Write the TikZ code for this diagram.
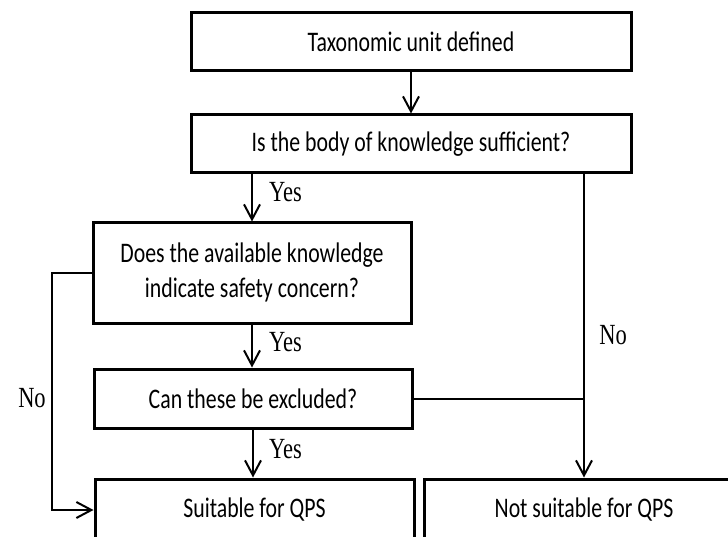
\documentclass[tikz,border=0pt]{standalone}
\usepackage{fontspec}
\setmainfont{Carlito}
\newfontfamily\serifl{Liberation Serif}
\usetikzlibrary{arrows.meta}
\newcommand\vstretch[1]{\scalebox{1}[1.3]{#1}}
\begin{document}
\begin{tikzpicture}[x=1pt,y=-1pt,
  box/.style={draw, line width=3pt, rectangle, inner sep=0pt, anchor=center,
    font=\fontsize{21.8}{27}\selectfont, text=black},
  conn/.style={line width=2pt},
  arr/.style={conn, -{Straight Barb[length=15pt,width=16pt,line width=2pt]}},
  lbl/.style={font=\serifl\fontsize{22.5}{27}\selectfont, inner sep=0pt, anchor=center}
]
\useasboundingbox (0,0) rectangle (728,537);
\fill[white] (0,0) rectangle (728,537);
\clip (0,0) rectangle (728,537);

\node[box, minimum width=440pt, minimum height=58pt] (b1) at (411,41.5) {\vstretch{Taxonomic unit defined}};
\node[box, minimum width=440pt, minimum height=58pt] (b2) at (411,144) {\vstretch{Is the body of knowledge sufficient?}};
\node[box, minimum width=318pt, minimum height=100pt] (b3) at (252,273)
  {\vstretch{\begin{tabular}{@{}c@{}}Does the available knowledge\\indicate safety concern?\end{tabular}}};
\node[box, minimum width=318pt, minimum height=59pt] (b4) at (253,398.5) {\vstretch{Can these be excluded?}};
\node[box, minimum width=319pt, minimum height=62pt] (b5) at (254.5,510) {\vstretch{Suitable for QPS}};
\node[box, minimum width=320pt, minimum height=62pt] (b6) at (584,510) {\vstretch{Not suitable for QPS}};

\draw[arr] (b1.south) -- (b2.north);
\draw[arr] (b3.north |- b2.south) -- (b3.north);
\draw[arr] (b3.south) -- (b3.south |- b4.north);
\draw[arr] (b4.south) -- (b4.south |- b5.north);
\draw[arr] (b6.north |- b2.south) -- (b6.north);
\draw[conn] (b4.east) -- (b4.east -| b6.north);
\draw[arr] (b3.west) -- ++(-40,0) |- (b5.west);

\node[lbl] (y1) at (285.5,192.5) {\vstretch{Yes}};
\node[lbl] (y2) at (285.5,342.5) {\vstretch{Yes}};
\node[lbl] (y3) at (285.5,449) {\vstretch{Yes}};
\node[lbl] (n1) at (613,335) {\vstretch{No}};
\node[lbl] (n2) at (32,398) {\vstretch{No}};
\end{tikzpicture}
\end{document}
